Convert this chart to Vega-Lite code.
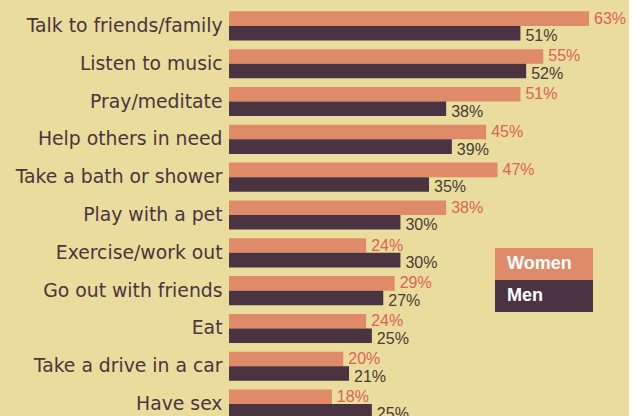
{
  "$schema": "https://vega.github.io/schema/vega-lite/v6.json",
  "autosize": "none",
  "width": 400,
  "height": 416,
  "padding": {"left": 229, "top": 7, "right": 0, "bottom": 0},
  "background": "#e9dc9c",
  "config": {"view": {"stroke": null}},
  "data": {"values": [
    {"activity": "Talk to friends/family", "gender": "Women", "pct": 0.63},
    {"activity": "Talk to friends/family", "gender": "Men", "pct": 0.51},
    {"activity": "Listen to music", "gender": "Women", "pct": 0.55},
    {"activity": "Listen to music", "gender": "Men", "pct": 0.52},
    {"activity": "Pray/meditate", "gender": "Women", "pct": 0.51},
    {"activity": "Pray/meditate", "gender": "Men", "pct": 0.38},
    {"activity": "Help others in need", "gender": "Women", "pct": 0.45},
    {"activity": "Help others in need", "gender": "Men", "pct": 0.39},
    {"activity": "Take a bath or shower", "gender": "Women", "pct": 0.47},
    {"activity": "Take a bath or shower", "gender": "Men", "pct": 0.35},
    {"activity": "Play with a pet", "gender": "Women", "pct": 0.38},
    {"activity": "Play with a pet", "gender": "Men", "pct": 0.30},
    {"activity": "Exercise/work out", "gender": "Women", "pct": 0.24},
    {"activity": "Exercise/work out", "gender": "Men", "pct": 0.30},
    {"activity": "Go out with friends", "gender": "Women", "pct": 0.29},
    {"activity": "Go out with friends", "gender": "Men", "pct": 0.27},
    {"activity": "Eat", "gender": "Women", "pct": 0.24},
    {"activity": "Eat", "gender": "Men", "pct": 0.25},
    {"activity": "Take a drive in a car", "gender": "Women", "pct": 0.20},
    {"activity": "Take a drive in a car", "gender": "Men", "pct": 0.21},
    {"activity": "Have sex", "gender": "Women", "pct": 0.18},
    {"activity": "Have sex", "gender": "Men", "pct": 0.25}
  ]},
  "encoding": {
    "y": {"field": "activity", "type": "nominal", "sort": null,
      "scale": {"paddingInner": 0.23, "paddingOuter": 0.115},
      "axis": {"title": null, "domain": false, "ticks": false, "labelPadding": 7,
        "labelFont": "DejaVu Sans", "labelFontSize": 18.8, "labelColor": "#4a3540", "labelLimit": 300}},
    "yOffset": {"field": "gender", "type": "nominal", "sort": ["Women", "Men"], "scale": {"paddingInner": 0}},
    "x": {"field": "pct", "type": "quantitative", "scale": {"domain": [0, 0.7]}, "axis": null}
  },
  "layer": [
    {
      "mark": {"type": "bar"},
      "encoding": {
        "color": {"field": "gender", "type": "nominal",
          "scale": {"domain": ["Women", "Men"], "range": ["#df8a69", "#4b3441"]},
          "legend": {"title": null, "orient": "none", "legendX": 299, "legendY": 241,
            "symbolType": "M-3.0625,-1H3.0625V1H-3.0625Z", "symbolSize": 1024, "symbolStrokeWidth": 0,
            "symbolOpacity": 1, "labelColor": "#ffffff", "labelFont": "Liberation Sans",
            "labelFontWeight": "bold", "labelFontSize": 18, "labelOffset": -53, "rowPadding": 0}}
      }
    },
    {
      "transform": [{"filter": "datum.gender === 'Women'"}],
      "mark": {"type": "text", "align": "left", "baseline": "middle", "dx": 5, "dy": 0,
        "font": "Liberation Sans", "fontSize": 16, "color": "#e0605a"},
      "encoding": {
        "text": {"field": "pct", "type": "quantitative", "format": ".0%"}
      }
    },
    {
      "transform": [{"filter": "datum.gender === 'Men'"}],
      "mark": {"type": "text", "align": "left", "baseline": "middle", "dx": 5, "dy": 3,
        "font": "Liberation Sans", "fontSize": 16, "color": "#4a3a38"},
      "encoding": {
        "text": {"field": "pct", "type": "quantitative", "format": ".0%"}
      }
    }
  ]
}
